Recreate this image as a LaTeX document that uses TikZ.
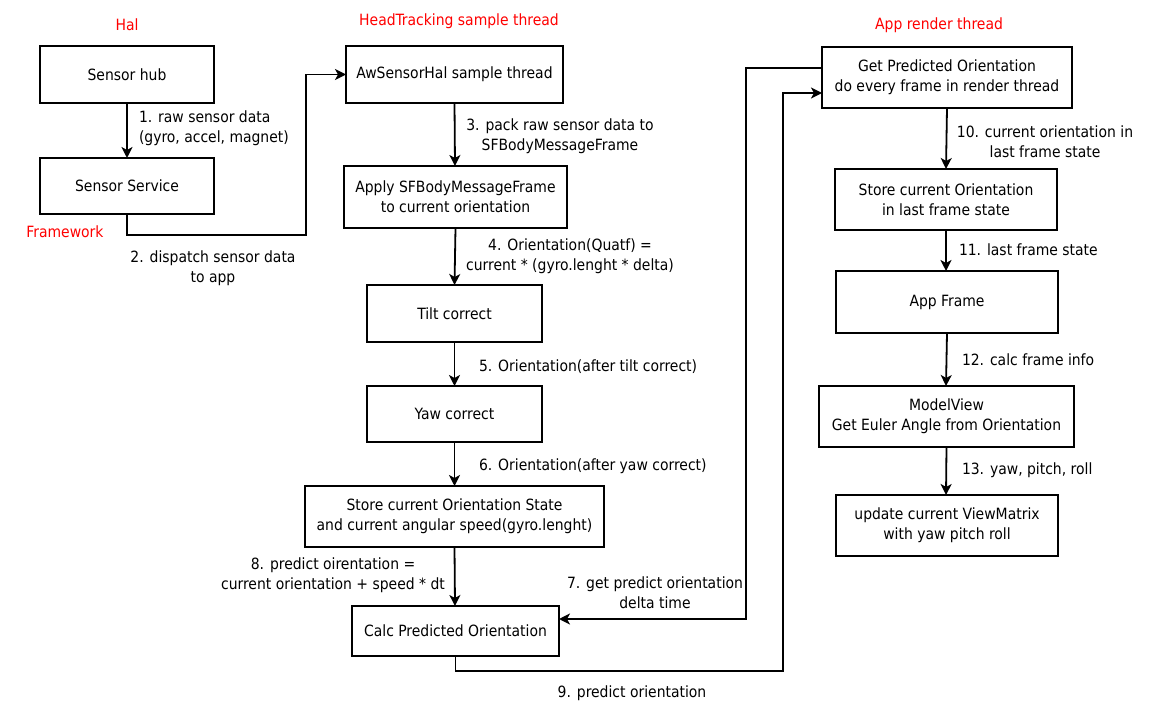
\documentclass[tikz,border=0pt]{standalone}
\usepackage{fontspec}
\setmainfont{DejaVu Sans Condensed}
\usetikzlibrary{arrows.meta}
\definecolor{titlered}{RGB}{255,0,0}
\begin{document}
\begin{tikzpicture}[x=1pt,y=-1pt,
  every node/.style={font=\fontsize{15.5}{20}\selectfont, inner sep=0pt, outer sep=0pt},
  box/.style={draw, line width=2pt, align=center},
  arr/.style={line width=1.8pt, -{Stealth[length=11pt,width=11pt,inset=3pt]}},
  lbl/.style={align=center},
  lbll/.style={anchor=west, align=left},
  grp/.style={text=titlered}]
\useasboundingbox (0,0) rectangle (1151,708);

% group titles
\node[grp] (thal) at (127,25) {Hal};
\node[grp] (tfw) at (65,232) {Framework};
\node[grp] (tht) at (459,21) {HeadTracking sample thread};
\node[grp] (tapp) at (939,25) {App render thread};

% left column: Hal / Framework
\node[box, minimum width=174pt, minimum height=57pt] (hub) at (127,74.5) {Sensor hub};
\node[box, minimum width=174pt, minimum height=56pt] (svc) at (127,186) {Sensor Service};

% middle column: head tracking sample thread
\node[box, minimum width=217pt, minimum height=57pt] (aws) at (454.5,74.5) {AwSensorHal sample thread};
\node[box, minimum width=223pt, minimum height=62pt] (apply) at (455.5,197) {Apply SFBodyMessageFrame\\to current orientation};
\node[box, minimum width=175pt, minimum height=57pt] (tilt) at (454.5,313.5) {Tilt correct};
\node[box, minimum width=175pt, minimum height=56pt] (yaw) at (454.5,414) {Yaw correct};
\node[box, minimum width=299pt, minimum height=61pt] (store) at (454.5,516.5) {Store current Orientation State\\and current angular speed(gyro.lenght)};
\node[box, minimum width=207pt, minimum height=50pt] (calc) at (455.5,631) {Calc Predicted Orientation};

% right column: app render thread
\node[box, minimum width=250pt, minimum height=61pt] (getp) at (947,77.5) {Get Predicted Orientation\\do every frame in render thread};
\node[box, minimum width=222pt, minimum height=61pt] (last) at (946,199.5) {Store current Orientation\\in last frame state};
\node[box, minimum width=222pt, minimum height=62pt] (appf) at (947,302) {App Frame};
\node[box, minimum width=255pt, minimum height=61pt] (mv) at (946.5,416.5) {ModelView\\Get Euler Angle from Orientation};
\node[box, minimum width=222pt, minimum height=61pt] (vm) at (947,525.5) {update current ViewMatrix\\with yaw pitch roll};

% connectors
\draw[arr] (hub.south) -- (svc.north);
\draw[arr] (svc.south) |- (306,235) |- (aws.west);
\draw[arr] (aws.south) -- (455,166);
\draw[arr] (apply.south) -- (tilt.north);
\draw[arr] (tilt.south) -- (yaw.north);
\draw[arr] (yaw.south) -- (store.north);
\draw[arr] (store.south) -- (455,606);
\draw[arr] ([yshift=9.5pt]getp.west) -| (746,619) -- ([yshift=12pt]calc.east);
\draw[arr] (calc.south) |- (783,671) |- ([yshift=-15.5pt]getp.west);
\draw[arr] (getp.south) -- (946,169);
\draw[arr] (last.south) -- (946,271);
\draw[arr] (appf.south) -- (946,386);
\draw[arr] (mv.south) -- (946,495);

% connector labels
\node[lbll] (l1) at (139,128) {1. raw sensor data\\(gyro, accel, magnet)};
\node[lbl] (l2) at (213,268) {2. dispatch sensor data\\to app};
\node[lbl] (l3) at (560,136) {3. pack raw sensor data to\\SFBodyMessageFrame};
\node[lbl] (l4) at (570,256) {4. Orientation(Quatf) =\\current * (gyro.lenght * delta)};
\node[lbll] (l5) at (479,367) {5. Orientation(after tilt correct)};
\node[lbll] (l6) at (479,466) {6. Orientation(after yaw correct)};
\node[lbl] (l7) at (655,593) {7. get predict orientation\\delta time};
\node[lbl] (l8) at (333,575) {8. predict oirentation =\\current orientation + speed * dt};
\node[lbl] (l9) at (632,693) {9. predict orientation};
\node[lbl] (l10) at (1045,141.5) {10. current orientation in\\last frame state};
\node[lbll] (l11) at (959,250) {11. last frame state};
\node[lbll] (l12) at (962,360) {12. calc frame info};
\node[lbll] (l13) at (962,470) {13. yaw, pitch, roll};
\end{tikzpicture}
\end{document}
